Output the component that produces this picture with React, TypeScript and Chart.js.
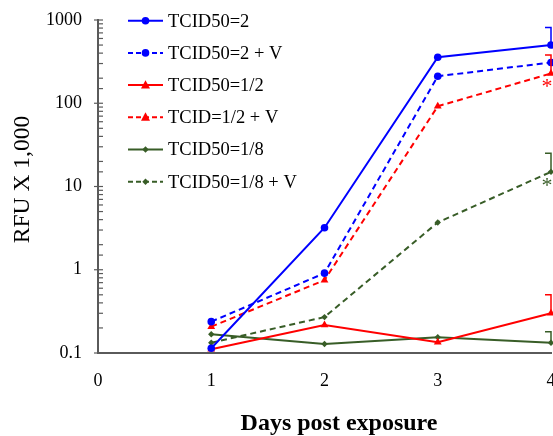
import React, { useEffect, useRef } from "react";
import { Chart, registerables } from "chart.js";

Chart.register(...registerables);

const days = [1, 2, 3, 4];
const seriesLabels = [
  "TCID50=2",
  "TCID50=2 + V",
  "TCID50=1/2",
  "TCID=1/2 + V",
  "TCID50=1/8",
  "TCID50=1/8 + V",
];
const tcid2 = [0.114, 3.2, 357, 500];
const tcid2V = [0.238, 0.91, 211, 309];
const tcidHalf = [0.111, 0.217, 0.135, 0.3];
const tcidHalfV = [0.207, 0.75, 92, 228];
const tcidEighth = [0.168, 0.128, 0.155, 0.133];
const tcidEighthV = [0.133, 0.27, 3.7, 15];

// upper error-bar ends (null = none)
const err2 = [null, null, null, 810];
const err2V = [null, null, null, null];
const errHalf = [null, null, null, 0.5];
const errHalfV = [null, null, null, 380];
const errEighth = [null, null, null, 0.18];
const errEighthV = [null, null, null, 25];

// significance asterisks
const sigHalfV = [false, false, false, true];
const sigEighthV = [false, false, false, true];

const xTitle = "Days post exposure";
const yTitle = "RFU X 1,000";

const BLUE = "#0000FF";
const RED = "#FF0000";
const GREEN = "#385D27";
const AXIS = "#5a5a5a";
const FONT = "'Liberation Serif', 'Times New Roman', serif";

const allValues = [tcid2, tcid2V, tcidHalf, tcidHalfV, tcidEighth, tcidEighthV];
const allErrors = [err2, err2V, errHalf, errHalfV, errEighth, errEighthV];
const allSig = [null, null, null, sigHalfV, null, sigEighthV];
const colors = [BLUE, BLUE, RED, RED, GREEN, GREEN];
const dashed = [false, true, false, true, false, true];
const shapes = ["circle", "circle", "triangle", "triangle", "rectRot", "rectRot"];
const radii = [3.8, 3.8, 4.5, 4.5, 3.2, 3.2];

function drawMarker(ctx, shape, x, y, r, color) {
  ctx.save();
  ctx.fillStyle = color;
  ctx.setLineDash([]);
  ctx.beginPath();
  if (shape === "circle") {
    ctx.arc(x, y, r, 0, Math.PI * 2);
  } else if (shape === "triangle") {
    ctx.moveTo(x, y - r * 1.1);
    ctx.lineTo(x + r, y + r * 0.75);
    ctx.lineTo(x - r, y + r * 0.75);
    ctx.closePath();
  } else {
    ctx.moveTo(x, y - r);
    ctx.lineTo(x + r, y);
    ctx.lineTo(x, y + r);
    ctx.lineTo(x - r, y);
    ctx.closePath();
  }
  ctx.fill();
  ctx.restore();
}

const overlayPlugin = {
  id: "overlay",
  afterDraw(chart) {
    const { ctx } = chart;
    const xs = chart.scales.x;
    const ys = chart.scales.y;

    // y-axis tick marks
    ctx.save();
    ctx.strokeStyle = AXIS;
    ctx.lineWidth = 1.2;
    const axisX = xs.left;
    ys.ticks.forEach((t) => {
      const py = ys.getPixelForValue(t.value);
      const l = Math.log10(t.value);
      const major = Math.abs(l - Math.round(l)) < 1e-9;
      ctx.beginPath();
      ctx.moveTo(major ? axisX - 4 : axisX, py);
      ctx.lineTo(axisX + 5, py);
      ctx.stroke();
    });
    ctx.restore();

    // error bars
    allErrors.forEach((errs, di) => {
      errs.forEach((e, i) => {
        if (e == null) return;
        const px = xs.getPixelForValue(days[i]);
        const py = ys.getPixelForValue(allValues[di][i]);
        const pt = ys.getPixelForValue(e);
        ctx.save();
        ctx.strokeStyle = colors[di];
        ctx.lineWidth = 1.5;
        ctx.beginPath();
        ctx.moveTo(px, py);
        ctx.lineTo(px, pt);
        ctx.lineTo(px - 6, pt);
        ctx.stroke();
        ctx.restore();
      });
    });

    // asterisks
    allSig.forEach((sig, di) => {
      if (!sig) return;
      sig.forEach((s, i) => {
        if (!s) return;
        const px = xs.getPixelForValue(days[i]);
        const py = ys.getPixelForValue(allValues[di][i]);
        ctx.save();
        ctx.fillStyle = colors[di];
        ctx.font = `22px ${FONT}`;
        ctx.textAlign = "center";
        ctx.textBaseline = "middle";
        ctx.fillText("*", px - 4, py + 14);
        ctx.restore();
      });
    });

    // legend
    const lx0 = 128;
    const lx1 = 163;
    const ly0 = 20.7;
    const lstep = 32.2;
    seriesLabels.forEach((lab, i) => {
      const y = ly0 + i * lstep;
      ctx.save();
      ctx.strokeStyle = colors[i];
      ctx.lineWidth = 2;
      ctx.setLineDash(dashed[i] ? [5, 3] : []);
      ctx.beginPath();
      ctx.moveTo(lx0, y);
      ctx.lineTo(lx1, y);
      ctx.stroke();
      ctx.restore();
      drawMarker(ctx, shapes[i], (lx0 + lx1) / 2, y, radii[i], colors[i]);
      ctx.save();
      ctx.fillStyle = "#000";
      ctx.font = `18.5px ${FONT}`;
      ctx.textAlign = "left";
      ctx.textBaseline = "middle";
      ctx.fillText(lab, 168, y + 1);
      ctx.restore();
    });

    // axis titles
    ctx.save();
    ctx.fillStyle = "#000";
    ctx.font = `bold 24px ${FONT}`;
    ctx.textAlign = "center";
    ctx.textBaseline = "middle";
    ctx.fillText(xTitle, 339, 424);
    ctx.translate(22.5, 179.5);
    ctx.rotate(-Math.PI / 2);
    ctx.font = `23.5px ${FONT}`;
    ctx.fillText(yTitle, 0, 0);
    ctx.restore();
  },
};

export default function App() {
  const ref = useRef(null);
  useEffect(() => {
    document.body.style.margin = "0";
    const datasets = allValues.map((vals, i) => ({
      label: seriesLabels[i],
      data: vals.map((v, j) => ({ x: days[j], y: v })),
      borderColor: colors[i],
      backgroundColor: colors[i],
      borderWidth: 2,
      borderDash: dashed[i] ? [6, 4] : [],
      pointStyle: shapes[i],
      pointRadius: radii[i],
      pointBorderWidth: 0,
      pointBackgroundColor: colors[i],
      tension: 0,
      clip: false,
    }));
    const chart = new Chart(ref.current, {
      type: "line",
      data: { datasets },
      options: {
        animation: false,
        responsive: false,
        layout: { autoPadding: false, padding: { top: 20, right: 2, left: 0, bottom: 0 } },
        plugins: { legend: { display: false }, tooltip: { enabled: false } },
        scales: {
          x: {
            type: "linear",
            min: 0,
            max: 4,
            grid: { display: false, drawTicks: false },
            border: { display: true, color: AXIS, width: 2 },
            ticks: {
              stepSize: 1,
              padding: 17,
              color: "#000",
              font: { family: FONT, size: 18 },
            },
            afterFit: (s) => {
              s.height = 83;
              s.paddingLeft = 0;
              s.paddingRight = 0;
            },
          },
          y: {
            type: "logarithmic",
            min: 0.1,
            max: 1000,
            grid: { display: false, drawTicks: false },
            border: { display: true, color: AXIS, width: 2 },
            ticks: {
              autoSkip: false,
              padding: 16,
              color: "#000",
              font: { family: FONT, size: 18 },
              callback: (v) => {
                const l = Math.log10(Number(v));
                return Math.abs(l - Math.round(l)) < 1e-9 ? String(Number(v)) : "";
              },
            },
            afterFit: (s) => {
              s.width = 98;
              s.paddingTop = 0;
              s.paddingBottom = 0;
            },
          },
        },
      },
      plugins: [overlayPlugin],
    });
    return () => chart.destroy();
  }, []);
  return (
    <div style={{ width: 553, height: 436 }}>
      <canvas ref={ref} width={553} height={436} style={{ display: "block" }} />
    </div>
  );
}
